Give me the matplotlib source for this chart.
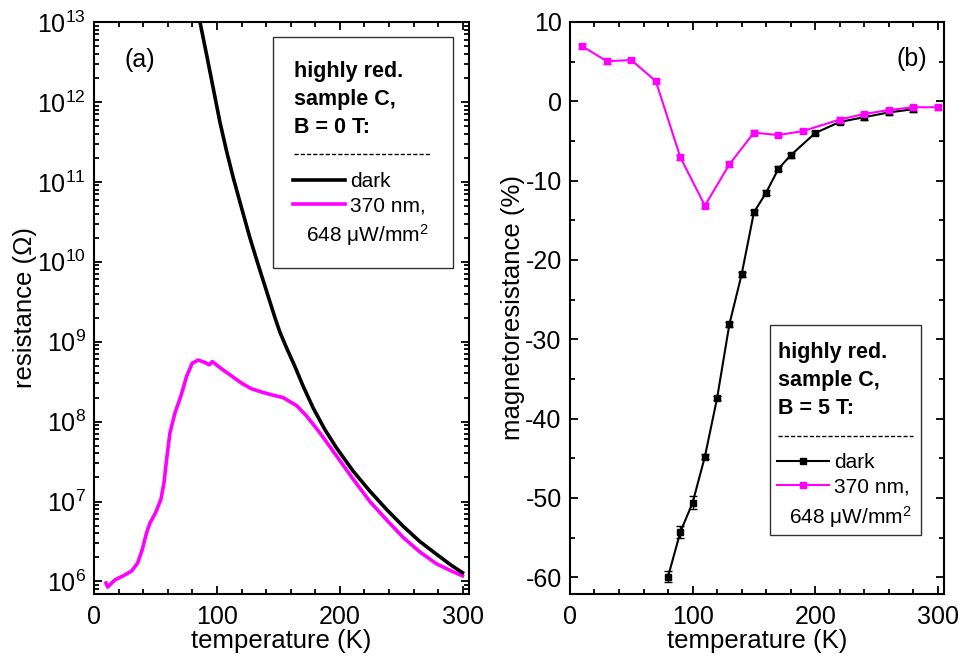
import numpy as np
import matplotlib
matplotlib.use('Agg')
import matplotlib.pyplot as plt
from matplotlib.patches import Rectangle
from matplotlib.lines import Line2D
from matplotlib.ticker import MultipleLocator, LogLocator, NullFormatter

plt.rcParams['font.family'] = ['Liberation Sans', 'DejaVu Sans']
plt.rcParams['mathtext.fontset'] = 'custom'
plt.rcParams['mathtext.rm'] = 'Liberation Sans'
plt.rcParams['mathtext.it'] = 'Liberation Sans:italic'
plt.rcParams['mathtext.bf'] = 'Liberation Sans:bold'
plt.rcParams['axes.unicode_minus'] = False

MAGENTA = '#ff00ff'

# (a) resistance vs temperature, B = 0 T (log10 of R in Ohm)
T_dark = [86.2, 91.6, 97.0, 102.4, 107.9, 113.3, 120.1, 126.8, 133.6, 140.4, 147.2,
          151.2, 156.7, 163.4, 170.2, 178.3, 187.8, 197.3, 210.8, 224.4, 238, 251.5,
          265, 278.6, 290.8, 299.7]
logR_dark = [13.0, 12.59, 12.17, 11.75, 11.38, 11.05, 10.67, 10.30, 9.96, 9.63, 9.30,
             9.12, 8.92, 8.69, 8.44, 8.17, 7.90, 7.67, 7.38, 7.13, 6.90, 6.69,
             6.50, 6.34, 6.20, 6.11]

T_uv = [9.8, 11.1, 17.1, 23.8, 30.6, 35.5, 39.3, 42.8, 45.5, 50.1, 54.5, 56.9, 59.1,
        61.8, 65.9, 70.7, 75.4, 79.9, 84.8, 90.2, 93.8, 96.2, 103.8, 112.0, 120.1,
        128.2, 136.3, 145.8, 153.9, 164.8, 172.9, 183.7, 197.3, 210.8, 224.4, 238,
        251.5, 265, 278.6, 290.8, 299.7]
logR_uv = [5.98, 5.93, 6.02, 6.07, 6.13, 6.23, 6.40, 6.61, 6.73, 6.86, 7.03, 7.23, 7.53,
           7.86, 8.11, 8.32, 8.57, 8.73, 8.77, 8.74, 8.71, 8.75, 8.66, 8.57, 8.48,
           8.41, 8.37, 8.33, 8.30, 8.20, 8.07, 7.86, 7.57, 7.28, 7.00, 6.77,
           6.55, 6.37, 6.22, 6.13, 6.07]

# (b) magnetoresistance at B = 5 T
T_mr_dark = [80, 90, 100, 110, 120, 130, 140, 150, 160, 170, 180, 200, 220, 240, 260, 280]
mr_dark = [-59.9, -54.3, -50.6, -44.8, -37.4, -28.1, -21.8, -14.0, -11.5, -8.5, -6.8,
           -4.0, -2.6, -2.0, -1.4, -1.0]
err_dark = [0.7, 0.75, 0.8, 0.3, 0.3, 0.3, 0.3, 0.3, 0.3, 0.3, 0.3, 0.3, 0.3, 0.3, 0.3, 0.3]

T_mr_uv = [10, 30, 50, 70, 90, 110, 130, 150, 170, 190, 220, 240, 260, 280, 300]
mr_uv = [6.95, 5.05, 5.2, 2.55, -7.05, -13.15, -7.95, -3.95, -4.25, -3.75, -2.3, -1.6,
         -1.1, -0.75, -0.75]
err_uv = [0.3] * len(T_mr_uv)

fig = plt.figure(figsize=(9.61, 6.58), dpi=100)
ax1 = fig.add_axes([0.0978, 0.0973, 0.3902, 0.8693])
ax2 = fig.add_axes([0.5931, 0.0973, 0.3892, 0.8693])

for ax in (ax1, ax2):
    for s in ax.spines.values():
        s.set_linewidth(1.5)
    ax.tick_params(which='both', direction='in', top=True, right=True, width=1.3,
                   labelsize=18, pad=6)
    ax.tick_params(axis='x', pad=8)
    ax.tick_params(which='major', length=6)
    ax.tick_params(which='minor', length=3.5)
    ax.set_xlim(0, 305)
    ax.xaxis.set_major_locator(MultipleLocator(100))
    ax.xaxis.set_minor_locator(MultipleLocator(20))
    ax.set_xlabel('temperature (K)', fontsize=18.5, labelpad=0)

# ---- panel (a)
l_dark, = ax1.plot(T_dark, 10 ** np.array(logR_dark), color='black', lw=2.6, zorder=3)
l_uv, = ax1.plot(T_uv, 10 ** np.array(logR_uv), color=MAGENTA, lw=2.6, zorder=2)
ax1.set_yscale('log')
ax1.set_ylim(10 ** 5.843, 1e13)
ax1.yaxis.set_major_locator(LogLocator(base=10, numticks=20))
ax1.yaxis.set_minor_locator(LogLocator(base=10, subs=np.arange(2, 10), numticks=100))
ax1.yaxis.set_minor_formatter(NullFormatter())
ax1.set_ylabel('resistance (\u03a9)', fontsize=18.5, labelpad=0)
ax1.text(0.123, 0.934, '(a)', transform=ax1.transAxes, fontsize=18, ha='center', va='center')

# ---- panel (b)
ax2.errorbar(T_mr_dark, mr_dark, yerr=err_dark, color='black', lw=1.5, marker='s',
             markersize=4.5, capsize=3, elinewidth=1, capthick=1, zorder=2)
ax2.errorbar(T_mr_uv, mr_uv, yerr=err_uv, color=MAGENTA, lw=1.5, marker='s',
             markersize=4.5, capsize=3, elinewidth=1, capthick=1, zorder=3)
ax2.set_ylim(-62.1, 10)
ax2.yaxis.set_major_locator(MultipleLocator(10))
ax2.yaxis.set_minor_locator(MultipleLocator(5))
ax2.set_ylabel('magnetoresistance (%)', fontsize=18.5, labelpad=0)
ax2.text(0.914, 0.936, '(b)', transform=ax2.transAxes, fontsize=18, ha='center', va='center')


def legend_box(ax, box, title, title_x, title_y, dash_y, dash_x1, handles, hx, hy, extra_x, extra_y):
    ax.add_patch(Rectangle((box[0], box[1]), box[2], box[3], transform=ax.transAxes,
                           fill=False, edgecolor='#333333', lw=1.0, zorder=5))
    for line, y in zip(title, title_y):
        ax.text(title_x, y, line, transform=ax.transAxes, fontsize=15.5, fontweight='bold',
                ha='left', va='center', zorder=6)
    ax.add_line(Line2D([title_x, dash_x1], [dash_y, dash_y], transform=ax.transAxes,
                       color='black', lw=1.0, ls=(0, (3, 1.5)), zorder=6))
    leg = ax.legend(handles, ['dark', '370 nm,'], loc='center left', bbox_to_anchor=(hx, hy),
                    frameon=False, fontsize=15, handlelength=2.5, handletextpad=0.25,
                    borderpad=0, borderaxespad=0, labelspacing=0.25)
    ax.text(extra_x, extra_y, '648 \u03bcW/mm$^2$', transform=ax.transAxes, fontsize=15,
            ha='left', va='center', zorder=6)
    return leg


legend_box(ax1, (0.4765, 0.5705, 0.48, 0.4025),
           ['highly red.', 'sample C,', 'B = 0 T:'], 0.533, [0.913, 0.865, 0.815],
           0.769, 0.896, [l_dark, l_uv], 0.5299, 0.700, 0.565, 0.628)

h_dark = Line2D([], [], color='black', lw=1.5, marker='s', markersize=4.5)
h_uv = Line2D([], [], color=MAGENTA, lw=1.5, marker='s', markersize=4.5)
legend_box(ax2, (0.535, 0.103, 0.404, 0.367),
           ['highly red.', 'sample C,', 'B = 5 T:'], 0.555, [0.4226, 0.3729, 0.3247],
           0.2767, 0.918, [h_dark, h_uv], 0.5527, 0.2089, 0.586, 0.1351)

fig.savefig('out.png', dpi=100)
